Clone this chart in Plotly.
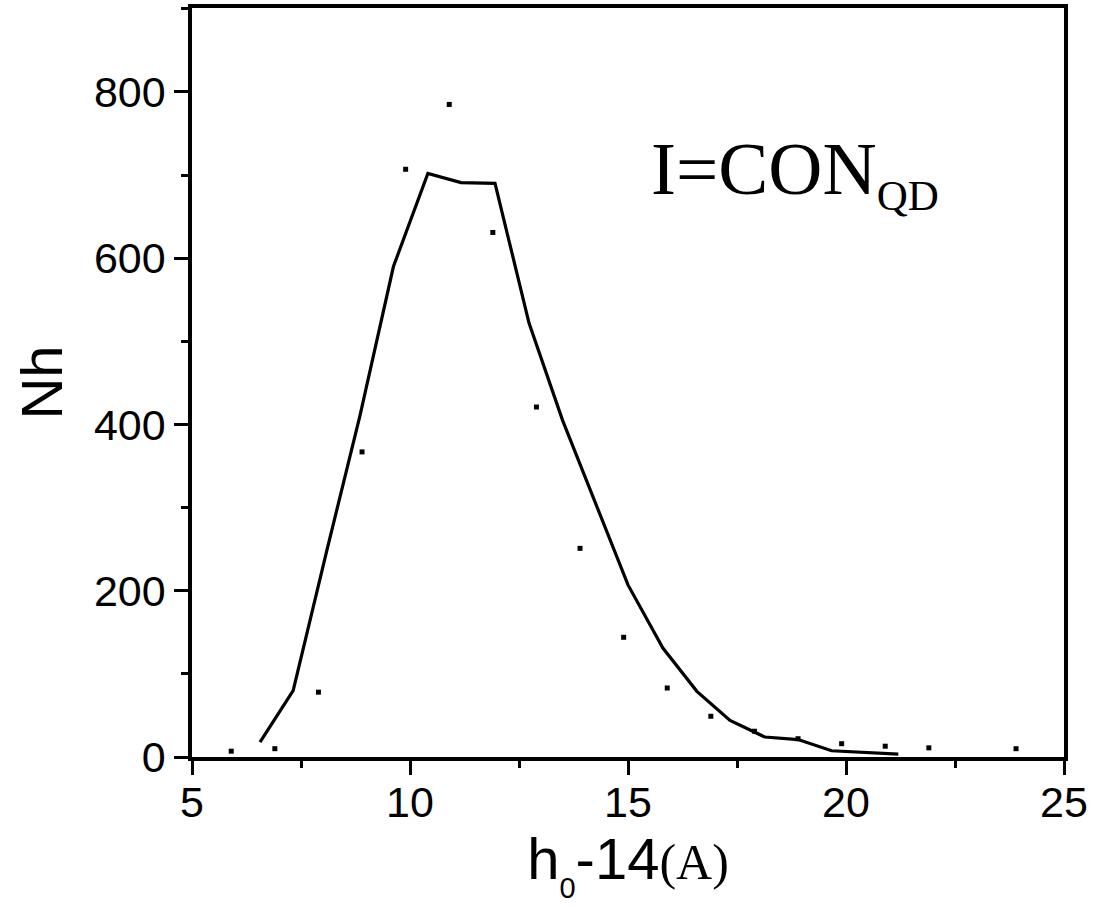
import plotly.graph_objects as go

# scattered data points
pts_x = [5.9, 6.9, 7.9, 8.9, 9.9, 10.9, 11.9, 12.9, 13.9, 14.9, 15.9, 16.9, 17.9, 18.9, 19.9, 20.9, 21.9, 23.9]
pts_y = [7, 10, 78, 367, 707, 785, 631, 421, 251, 144, 83, 49, 31, 22, 16, 13, 11, 10]

# fitted curve
line_x = [6.56, 7.32, 8.1, 8.85, 9.62, 10.41, 11.17, 11.95, 12.73, 13.5, 15.0, 15.8, 16.58, 17.34, 18.14, 18.9, 19.67, 21.2]
line_y = [18, 80, 250, 410, 590, 702, 691, 690, 522, 405, 207, 131, 79, 44, 24, 21, 7.5, 3.5]

x_ticks = [5, 10, 15, 20, 25]
y_ticks = [0, 200, 400, 600, 800]

fig = go.Figure()
fig.add_trace(go.Scatter(x=line_x, y=line_y, mode="lines",
                         line=dict(color="black", width=3.2), showlegend=False))
fig.add_trace(go.Scatter(x=pts_x, y=pts_y, mode="markers",
                         marker=dict(symbol="square", size=5, color="black"), showlegend=False))

axis_common = dict(
    showline=True, linecolor="black", linewidth=3.5, mirror=True,
    ticks="outside", ticklen=14, tickwidth=3, tickcolor="black",
    showgrid=False, zeroline=False, automargin=False,
    tickfont=dict(family="Liberation Sans, Arial", size=43, color="black"),
)

fig.update_layout(
    width=1093, height=908,
    margin=dict(l=192, r=29, t=8, b=151),
    paper_bgcolor="white", plot_bgcolor="white",
    xaxis=dict(range=[5, 25], tickvals=x_ticks, ticktext=[str(v) for v in x_ticks],
               ticklabelstandoff=-9,
               minor=dict(dtick=2.5, tick0=5, ticks="outside", ticklen=7, tickwidth=3, tickcolor="black"),
               title=dict(text="h<span style='font-size:29px;baseline-shift:-19px'>0</span>-14<span style='font-family:Liberation Serif, Times New Roman;font-size:50px'>(A)</span>",
                          font=dict(family="Liberation Sans, Arial", size=58, color="black"), standoff=8),
               **axis_common),
    yaxis=dict(range=[0, 901], tickvals=y_ticks, ticktext=[str(v) for v in y_ticks],
               minor=dict(dtick=100, tick0=0, ticks="outside", ticklen=7, tickwidth=3, tickcolor="black"),
               title=dict(text="Nh", font=dict(family="Liberation Sans, Arial", size=58, color="black"), standoff=14),
               **axis_common),
)

fig.add_annotation(x=15.48, y=760, xref="x", yref="y", xanchor="left", yanchor="top",
                   showarrow=False,
                   text="I=CON<sub><span style='font-size:43px'>QD</span></sub>",
                   font=dict(family="Liberation Serif, Times New Roman", size=75, color="black"))

fig.write_html("out.html")
